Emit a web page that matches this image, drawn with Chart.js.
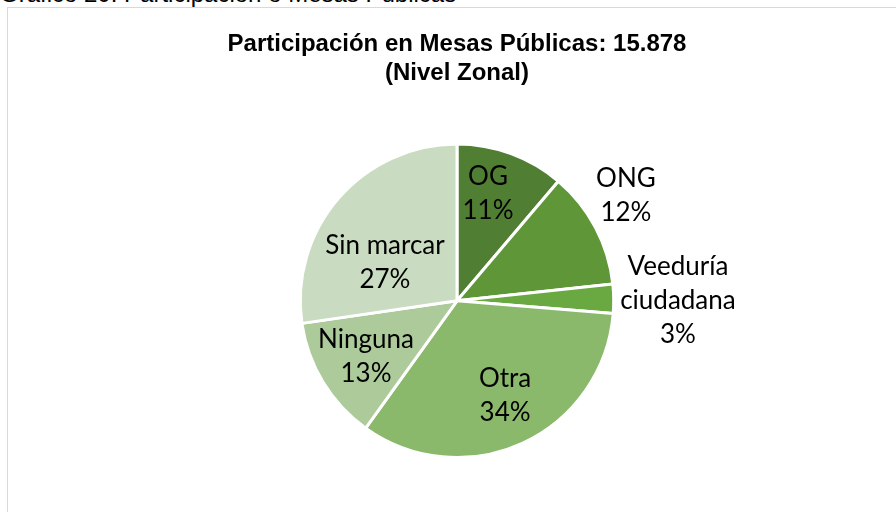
<!DOCTYPE html>
<html>
<head>
<meta charset="utf-8">
<script src="https://cdn.jsdelivr.net/npm/chart.js@4/dist/chart.umd.min.js"></script>
<style>
  html, body { margin: 0; padding: 0; width: 896px; height: 512px; overflow: hidden; background: #fff; }
  #caption {
    position: absolute; left: 0; top: -18px;
    font: 24px "Liberation Sans", Arial, sans-serif; line-height: 24px;
    white-space: nowrap; color: #000;
  }
  #box {
    position: absolute; left: 7px; top: 7px;
    width: 898px; height: 520px;
    border: 1px solid #d9d9d9;
  }
</style>
</head>
<body>
<div id="caption">Gráfico 20: Participación o Mesas Públicas</div>
<div id="box"><canvas id="pieChart" width="898" height="504"></canvas></div>
<script>
const titleLines = ["Participación en Mesas Públicas: 15.878", "(Nivel Zonal)"];
const categories = ["OG", "ONG", "Veeduría ciudadana", "Otra", "Ninguna", "Sin marcar"];
const shares = [11.2, 12.1, 3.0, 33.6, 12.8, 27.3];
const percentLabels = ["11%", "12%", "3%", "34%", "13%", "27%"];

const sliceColors = ["#507e32", "#5e9638", "#6aa842", "#8ab96b", "#adca9b", "#c9dbc0"];
// label placement: distance from centre (fraction of radius) and a small turn in degrees
const labelDistance = [0.71, 1.27, 1.41, 0.68, 0.68, 0.52];
const labelTurn = [-4, -4, 0.7, -2, 0, -13];

const sliceLabels = {
    id: "sliceLabels",
    afterDatasetsDraw(chart) {
        const ctx = chart.ctx;
        const arcs = chart.getDatasetMeta(0).data;
        ctx.save();
        ctx.fillStyle = "#000";
        ctx.font = "26px Lato, 'Open Sans', sans-serif";
        ctx.textAlign = "center";
        ctx.textBaseline = "middle";
        arcs.forEach((arc, i) => {
            const p = arc.getProps(["x", "y", "startAngle", "endAngle", "outerRadius"], true);
            const mid = (p.startAngle + p.endAngle) / 2 + labelTurn[i] * Math.PI / 180;
            const r = p.outerRadius * labelDistance[i];
            const lx = p.x + Math.cos(mid) * r;
            const ly = p.y + Math.sin(mid) * r;
            const words = categories[i] === "Veeduría ciudadana" ? ["Veeduría", "ciudadana"] : [categories[i]];
            const lines = words.concat(percentLabels[i]);
            const lh = 34;
            const top = ly - (lines.length - 1) * lh / 2;
            lines.forEach((t, k) => ctx.fillText(t, lx, top + k * lh));
        });
        ctx.restore();
    }
};

new Chart(document.getElementById("pieChart"), {
    type: "pie",
    data: {
        labels: categories,
        datasets: [{
            data: shares,
            backgroundColor: sliceColors,
            borderColor: "#ffffff",
            borderWidth: 3,
        }],
    },
    options: {
        responsive: false,
        animation: false,
        layout: { padding: { top: 22, bottom: 53, left: 0, right: 0 } },
        plugins: {
            legend: { display: false },
            tooltip: { enabled: false },
            title: {
                display: true,
                text: titleLines,
                color: "#000",
                font: { family: "'Liberation Sans', Arial, sans-serif", size: 24, weight: "bold", lineHeight: 1.2 },
                padding: { top: 0, bottom: 55 },
            },
        },
    },
    plugins: [sliceLabels],
});
</script>
</body>
</html>
